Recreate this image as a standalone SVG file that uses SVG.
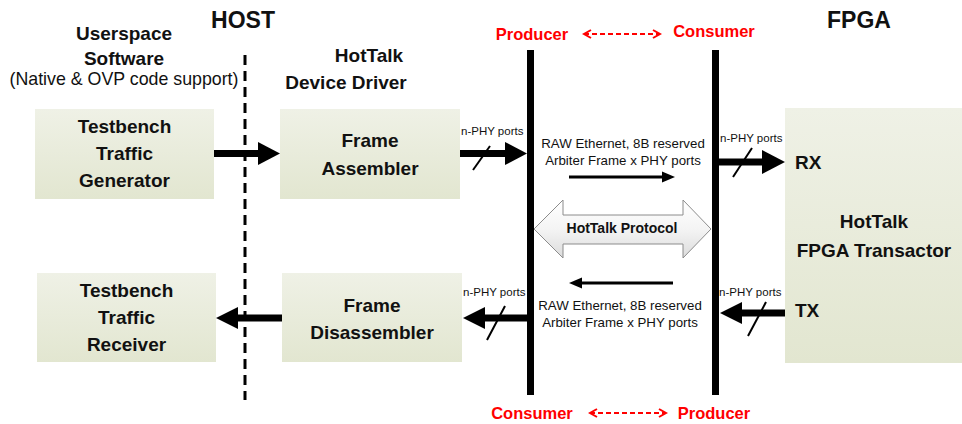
<svg xmlns="http://www.w3.org/2000/svg" width="962" height="424" viewBox="0 0 962 424">
<defs>
  <linearGradient id="boxg" x1="0" y1="0" x2="0" y2="1">
    <stop offset="0" stop-color="#eff1e6"/>
    <stop offset="1" stop-color="#e2e6d0"/>
  </linearGradient>
  <linearGradient id="protog" x1="0" y1="0" x2="0" y2="1">
    <stop offset="0" stop-color="#ffffff"/>
    <stop offset="0.5" stop-color="#f4f4f4"/>
    <stop offset="1" stop-color="#dcdcdc"/>
  </linearGradient>
  <marker id="chev" viewBox="0 0 10 10" refX="8" refY="5" markerWidth="10" markerHeight="10" markerUnits="userSpaceOnUse" orient="auto-start-reverse">
    <path d="M1,1 L8,5 L1,9" fill="none" stroke="#ff0000" stroke-width="2"/>
  </marker>
</defs>
<style>
  .box { fill: url(#boxg); }
  .t { font-family: "Liberation Sans", Arial, sans-serif; font-weight: bold; fill: #111; text-anchor: middle; }
  .ts { text-anchor: start; }
  .lbl { font-size: 19px; }
  .hdr { font-size: 23px; }
  .red { font-family: "Liberation Sans", Arial, sans-serif; font-weight: bold; font-size: 16.5px; fill: #ff0000; text-anchor: middle; }
  .small { font-family: "Liberation Sans", Arial, sans-serif; font-size: 11.5px; fill: #111; }
  .mid { font-family: "Liberation Sans", Arial, sans-serif; font-size: 13.3px; fill: #111; text-anchor: middle; }
  .thick { stroke: #000; stroke-width: 7; fill: none; }
  .thin { stroke: #000; stroke-width: 3; fill: none; }
  .slash { stroke: #000; stroke-width: 2; }
  .head { fill: #000; }
  .bar { fill: #000; }
  .rdash { stroke: #ff0000; stroke-width: 2; stroke-dasharray: 5 3; fill: none; }
</style>
<rect width="962" height="424" fill="#ffffff"/>

<!-- headers -->
<g id="headers">
  <text class="t hdr" x="243" y="28">HOST</text>
  <text class="t hdr" x="859" y="28">FPGA</text>
  <text class="t lbl" x="124" y="40">Userspace</text>
  <text class="t lbl" x="124" y="65">Software</text>
  <text x="124" y="85" font-family="Liberation Sans, Arial, sans-serif" font-size="17.8px" fill="#111" text-anchor="middle">(Native &amp; OVP code support)</text>
  <text class="t lbl" x="369" y="62">HotTalk</text>
  <text class="t lbl" x="346" y="89">Device Driver</text>
  <text class="red" x="532" y="40">Producer</text>
  <text class="red" x="714" y="37">Consumer</text>
  <text class="red" x="532" y="419">Consumer</text>
  <text class="red" x="714" y="419">Producer</text>
  <line class="rdash" x1="584" y1="34" x2="660" y2="34" marker-start="url(#chev)" marker-end="url(#chev)"/>
  <line class="rdash" x1="590" y1="413" x2="666" y2="413" marker-start="url(#chev)" marker-end="url(#chev)"/>
</g>

<!-- host divider -->
<line x1="245" y1="55" x2="245" y2="400" stroke="#000" stroke-width="3" stroke-dasharray="10 6"/>

<!-- nodes -->
<g id="generator">
  <rect class="box" x="35" y="109" width="179" height="90"/>
  <text class="t lbl" x="124.5" y="133">Testbench</text>
  <text class="t lbl" x="124.5" y="160">Traffic</text>
  <text class="t lbl" x="124.5" y="187">Generator</text>
</g>
<g id="assembler">
  <rect class="box" x="280" y="109" width="180" height="90"/>
  <text class="t lbl" x="370" y="147">Frame</text>
  <text class="t lbl" x="370" y="175">Assembler</text>
</g>
<g id="receiver">
  <rect class="box" x="37" y="273" width="179" height="89"/>
  <text class="t lbl" x="126.5" y="297">Testbench</text>
  <text class="t lbl" x="126.5" y="324">Traffic</text>
  <text class="t lbl" x="126.5" y="351">Receiver</text>
</g>
<g id="disassembler">
  <rect class="box" x="282" y="273" width="180" height="89"/>
  <text class="t lbl" x="372" y="312">Frame</text>
  <text class="t lbl" x="372" y="339">Disassembler</text>
</g>
<g id="fpga">
  <rect class="box" x="785" y="108" width="177" height="255"/>
  <text class="t ts lbl" x="795" y="169">RX</text>
  <text class="t lbl" x="874" y="228">HotTalk</text>
  <text class="t lbl" x="874" y="257">FPGA Transactor</text>
  <text class="t ts lbl" x="795" y="317">TX</text>
</g>
<g id="producer-bar">
  <rect class="bar" x="527" y="50" width="7" height="345"/>
</g>
<g id="consumer-bar">
  <rect class="bar" x="712" y="50" width="7" height="345"/>
</g>
<g id="protocol">
  <path d="M534,229 L563,200 L563,215 L683,215 L683,200 L711,229 L683,258 L683,244 L563,244 L563,258 Z" fill="url(#protog)" stroke="#8c8c8c" stroke-width="1"/>
  <text class="t" x="622" y="233" font-size="14px">HotTalk Protocol</text>
</g>

<!-- connectors -->
<g id="connectors">
  <!-- generator -> assembler -->
  <line class="thick" x1="214" y1="153.5" x2="262" y2="153.5"/>
  <polygon class="head" points="258,142 280,153.5 258,165"/>
  <!-- assembler -> producer bar -->
  <line class="thick" x1="460" y1="153.5" x2="509" y2="153.5"/>
  <polygon class="head" points="505,142 527,153.5 505,165"/>
  <line class="slash" x1="473" y1="170" x2="490" y2="146"/>
  <text class="small" x="461" y="135">n-PHY ports</text>
  <!-- consumer bar -> RX -->
  <line class="thick" x1="719" y1="162" x2="767" y2="162"/>
  <polygon class="head" points="762,150 785,162 762,174"/>
  <line class="slash" x1="733" y1="177" x2="752" y2="148"/>
  <text class="small" x="720" y="142">n-PHY ports</text>
  <!-- top middle -->
  <text class="mid" x="623" y="148">RAW Ethernet, 8B reserved</text>
  <text class="mid" x="623" y="165">Arbiter Frame x PHY ports</text>
  <line class="thin" x1="569" y1="177" x2="664" y2="177"/>
  <polygon class="head" points="662,171.5 675,177 662,182.5"/>
  <!-- bottom middle -->
  <line class="thin" x1="580" y1="283" x2="673" y2="283"/>
  <polygon class="head" points="582,277.5 569,283 582,288.5"/>
  <text class="mid" x="620" y="310">RAW Ethernet, 8B reserved</text>
  <text class="mid" x="620" y="327">Arbiter Frame x PHY ports</text>
  <!-- TX -> consumer bar -->
  <line class="thick" x1="785" y1="313" x2="738" y2="313"/>
  <polygon class="head" points="742,302 720,313 742,324"/>
  <line class="slash" x1="748" y1="336" x2="766" y2="302"/>
  <text class="small" x="719" y="296">n-PHY ports</text>
  <!-- producer bar -> disassembler -->
  <line class="thick" x1="527" y1="318" x2="481" y2="318"/>
  <polygon class="head" points="485,307 463,318 485,329"/>
  <line class="slash" x1="487" y1="340" x2="505" y2="306"/>
  <text class="small" x="463" y="296">n-PHY ports</text>
  <!-- disassembler -> receiver -->
  <line class="thick" x1="282" y1="318" x2="234" y2="318"/>
  <polygon class="head" points="238,307 216,318 238,329"/>
</g>
</svg>
